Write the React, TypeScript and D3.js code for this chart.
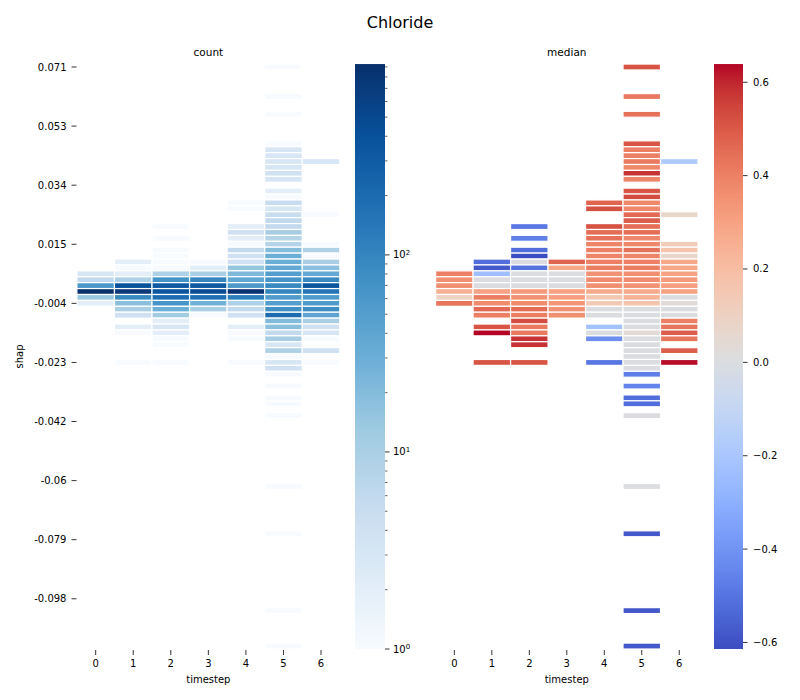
import React from "react";
import * as d3 from "d3";

const timesteps = [0, 1, 2, 3, 4, 5, 6];
const shapTickLabels = ["0.071", "0.053", "0.034", "0.015", "-0.004", "-0.023", "-0.042", "-0.06", "-0.079", "-0.098"];
const nBins = 99;
const tickEvery = 10;
const medianTicks = [-0.6, -0.4, -0.2, 0.0, 0.2, 0.4, 0.6];
const countMajorTicks = [1, 10, 100];

// bin row index (0 = top bin), count and median per timestep
const rowsT0 = [35, 36, 37, 38, 39, 40];
const countT0 = [3, 6, 60, 930, 14, 2];
const medianT0 = [0.40, 0.36, 0.36, 0.25, 0.10, 0.43];

const rowsT1 = [33, 34, 35, 36, 37, 38, 39, 40, 41, 42, 44, 45, 50];
const countT1 = [2, 1, 2, 9, 400, 750, 90, 18, 10, 4, 2, 1, 1];
const medianT1 = [-0.52, -0.58, -0.24, 0, 0, 0.30, 0.41, 0.37, 0.46, 0.40, 0.51, 0.639, 0.51];

const rowsT2 = [27, 29, 31, 32, 33, 34, 35, 36, 37, 38, 39, 40, 41, 42, 43, 44, 45, 46, 47, 50];
const countT2 = [1, 1, 1, 1, 1, 1, 9, 70, 320, 360, 190, 65, 30, 12, 2, 3, 2, 1, 1, 1];
const medianT2 = [-0.49, -0.46, -0.52, -0.614, 0, -0.5, 0, 0, 0, 0.33, 0.35, 0.37, 0.45, 0.41, 0.53, 0.42, 0.42, 0.58, 0.58, 0.51];

const rowsT3 = [33, 34, 35, 36, 37, 38, 39, 40, 41, 42];
const countT3 = [1, 2, 10, 100, 330, 450, 180, 28, 10, 1];
const medianT3 = [0.47, 0.28, 0, 0, 0, 0.30, 0.31, 0.34, 0.35, 0.36];

const rowsT4 = [23, 24, 27, 28, 29, 30, 31, 32, 33, 34, 35, 36, 37, 38, 39, 40, 41, 42, 44, 45, 46, 50];
const countT4 = [1, 1, 2, 4, 2, 1, 6, 4, 4, 15, 22, 38, 60, 850, 120, 9, 6, 4, 2, 1, 1, 1];
const medianT4 = [0.47, 0.52, 0.52, 0.45, 0.44, 0.39, 0.40, 0.39, 0.40, 0.41, 0.35, 0.37, 0.36, 0.27, 0.15, 0.14, 0, 0, -0.22, 0, -0.42, -0.49];

const rowsT5 = [0, 5, 8, 13, 14, 15, 16, 17, 18, 19, 21, 22, 23, 24, 25, 26, 27, 28, 29, 30, 31, 32, 33, 34, 35, 36, 37, 38, 39, 40, 41, 42, 43, 44, 45, 46, 47, 48, 49, 50, 51, 52, 54, 56, 57, 59, 71, 79, 92, 98];
const countT5 = [1, 1, 1, 1, 3, 3, 3, 3, 4, 3, 2, 1, 5, 3, 5, 6, 6, 11, 8, 8, 20, 30, 30, 36, 50, 65, 90, 100, 55, 50, 75, 200, 21, 18, 6, 11, 3, 9, 1, 3, 4, 1, 1, 1, 1, 1, 1, 1, 1, 1];
const medianT5 = [0.51, 0.42, 0.44, 0.51, 0.40, 0.40, 0.42, 0.38, 0.58, 0.39, 0.51, 0.53, 0.38, 0.38, 0.46, 0.49, 0.45, 0.45, 0.38, 0.38, 0.44, 0.39, 0.40, 0.41, 0.36, 0.37, 0.35, 0.27, 0.24, 0.17, 0, 0, 0, 0, 0.04, 0, 0, 0, 0, 0, 0, -0.47, -0.45, -0.52, -0.52, 0, 0, -0.58, -0.58, -0.58];

const rowsT6 = [16, 25, 30, 31, 32, 33, 34, 35, 36, 37, 38, 39, 40, 41, 42, 43, 44, 45, 46, 48, 50];
const countT6 = [3, 1, 1, 9, 1, 10, 18, 35, 88, 350, 150, 55, 55, 80, 40, 10, 4, 3, 1, 4, 1];
const medianT6 = [-0.18, 0.07, 0.13, 0.17, 0.07, 0.28, 0.28, 0.30, 0.33, 0.31, 0.30, 0, 0.03, 0, 0, 0.40, 0.43, 0.49, 0.43, 0.49, 0.63];

const allRows = [rowsT0, rowsT1, rowsT2, rowsT3, rowsT4, rowsT5, rowsT6];
const allCounts = [countT0, countT1, countT2, countT3, countT4, countT5, countT6];
const allMedians = [medianT0, medianT1, medianT2, medianT3, medianT4, medianT5, medianT6];

type Cell = { t: number; row: number; count: number; median: number };
const cells: Cell[] = [];
timesteps.forEach((t, i) => {
  allRows[i].forEach((r, j) => cells.push({ t, row: r, count: allCounts[i][j], median: allMedians[i][j] }));
});

const bluesColors = ["#f7fbff", "#deebf7", "#c6dbef", "#9ecae1", "#6baed6", "#4292c6", "#2171b5", "#08519c", "#08306b"];
const coolwarmColors = [
  "rgb(59,76,192)", "rgb(68,90,204)", "rgb(77,104,215)", "rgb(87,117,225)", "rgb(98,130,234)", "rgb(108,142,241)",
  "rgb(119,154,247)", "rgb(130,165,251)", "rgb(141,176,254)", "rgb(152,185,255)", "rgb(163,194,255)", "rgb(174,201,253)",
  "rgb(184,208,249)", "rgb(194,213,244)", "rgb(204,217,238)", "rgb(213,219,230)", "rgb(221,221,221)", "rgb(229,216,209)",
  "rgb(236,211,197)", "rgb(241,204,185)", "rgb(245,196,173)", "rgb(247,187,160)", "rgb(247,177,148)", "rgb(247,166,135)",
  "rgb(244,154,123)", "rgb(241,141,111)", "rgb(236,127,99)", "rgb(229,112,88)", "rgb(222,96,77)", "rgb(213,80,66)",
  "rgb(203,62,56)", "rgb(192,40,47)", "rgb(180,4,38)",
];
const blues = d3.piecewise(d3.interpolateRgb, bluesColors);
const coolwarm = d3.piecewise(d3.interpolateRgb, coolwarmColors);

const FONT = "DejaVu Sans, sans-serif";

export default function App() {
  const W = 800, H = 700;
  const top = 64.05, bottom = 649;
  const L = { x0: 76.9, x1: 339.8, cb0: 355, cb1: 385 };
  const R = { x0: 435.6, x1: 698, cb0: 714, cb1: 743 };

  const rowsDomain = d3.range(nBins);
  const y = d3.scaleBand<number>().domain(rowsDomain).range([top, bottom]).padding(0);
  const xL = d3.scaleBand<number>().domain(timesteps).range([L.x0, L.x1]).padding(0);
  const xR = d3.scaleBand<number>().domain(timesteps).range([R.x0, R.x1]).padding(0);

  const cExt = d3.extent(cells, (d) => d.count) as [number, number];
  const mExt = d3.extent(cells, (d) => d.median) as [number, number];
  const logC = d3.scaleLog().domain(cExt).range([0, 1]);
  const linM = d3.scaleLinear().domain(mExt).range([0, 1]);
  const cbCount = d3.scaleLog().domain(cExt).range([bottom, top]);
  const cbMed = d3.scaleLinear().domain(mExt).range([bottom, top]);

  const minor: number[] = [];
  [1, 10, 100].forEach((dec) => {
    for (let k = 2; k <= 9; k++) if (k * dec <= cExt[1]) minor.push(k * dec);
  });
  const stops = d3.range(0, 1.0001, 0.02);
  const yTickRows = shapTickLabels.map((_, i) => i * tickEvery);
  const bw = y.bandwidth();

  return (
    <svg width={W} height={H} style={{ display: "block", position: "absolute", left: 0, top: 0 }} fontFamily={FONT}>
      <defs>
        <linearGradient id="gBlues" x1="0" y1="1" x2="0" y2="0">
          {stops.map((s) => <stop key={s} offset={s} stopColor={blues(s)} />)}
        </linearGradient>
        <linearGradient id="gCw" x1="0" y1="1" x2="0" y2="0">
          {stops.map((s) => <stop key={s} offset={s} stopColor={coolwarm(s)} />)}
        </linearGradient>
      </defs>
      <rect width={W} height={H} fill="white" />
      <text x={400} y={28} textAnchor="middle" fontSize={16}>Chloride</text>

      {/* left: count */}
      <text x={(L.x0 + L.x1) / 2} y={56} textAnchor="middle" fontSize={10.5}>count</text>
      {cells.map((d, i) => (
        <rect key={"c" + i} x={xL(d.t)} y={y(d.row)} width={xL.bandwidth()} height={bw}
          fill={blues(logC(d.count))} stroke="white" strokeWidth={1.2} />
      ))}
      {yTickRows.map((r, i) => {
        const yy = (y(r) as number) + bw / 2;
        return (
          <g key={"yt" + i}>
            <line x1={71.5} x2={76.5} y1={yy} y2={yy} stroke="black" strokeWidth={0.8} />
            <text x={66.5} y={yy} dy="0.35em" textAnchor="end" fontSize={10}>{shapTickLabels[i]}</text>
          </g>
        );
      })}
      {timesteps.map((t) => {
        const xx = (xL(t) as number) + xL.bandwidth() / 2;
        return (
          <g key={"xl" + t}>
            <line x1={xx} x2={xx} y1={650} y2={655} stroke="black" strokeWidth={0.8} />
            <text x={xx} y={667} textAnchor="middle" fontSize={10}>{t}</text>
          </g>
        );
      })}
      <text x={(L.x0 + L.x1) / 2} y={683} textAnchor="middle" fontSize={10}>timestep</text>
      <text transform={`translate(23,${(top + bottom) / 2}) rotate(-90)`} textAnchor="middle" fontSize={10}>shap</text>

      <rect x={L.cb0} y={top} width={L.cb1 - L.cb0} height={bottom - top} fill="url(#gBlues)" />
      {minor.map((v) => (
        <line key={"mn" + v} x1={L.cb1} x2={L.cb1 + 2.5} y1={cbCount(v)} y2={cbCount(v)} stroke="black" strokeWidth={0.6} />
      ))}
      {countMajorTicks.map((v) => {
        const yy = cbCount(v);
        const exp = Math.round(Math.log10(v));
        return (
          <g key={"mj" + v}>
            <line x1={L.cb1} x2={L.cb1 + 4.5} y1={yy} y2={yy} stroke="black" strokeWidth={0.8} />
            <text x={L.cb1 + 8} y={yy} dy="0.35em" fontSize={10}>
              10<tspan dy="-0.45em" fontSize={7}>{exp}</tspan>
            </text>
          </g>
        );
      })}

      {/* right: median */}
      <text x={(R.x0 + R.x1) / 2} y={56} textAnchor="middle" fontSize={10.5}>median</text>
      {cells.map((d, i) => (
        <rect key={"m" + i} x={xR(d.t)} y={y(d.row)} width={xR.bandwidth()} height={bw}
          fill={coolwarm(linM(d.median))} stroke="white" strokeWidth={1.2} />
      ))}
      {timesteps.map((t) => {
        const xx = (xR(t) as number) + xR.bandwidth() / 2;
        return (
          <g key={"xr" + t}>
            <line x1={xx} x2={xx} y1={650} y2={655} stroke="black" strokeWidth={0.8} />
            <text x={xx} y={667} textAnchor="middle" fontSize={10}>{t}</text>
          </g>
        );
      })}
      <text x={(R.x0 + R.x1) / 2} y={683} textAnchor="middle" fontSize={10}>timestep</text>

      <rect x={R.cb0} y={top} width={R.cb1 - R.cb0} height={bottom - top} fill="url(#gCw)" />
      {medianTicks.map((v) => {
        const yy = cbMed(v);
        return (
          <g key={"mt" + v}>
            <line x1={R.cb1} x2={R.cb1 + 4.5} y1={yy} y2={yy} stroke="black" strokeWidth={0.8} />
            <text x={R.cb1 + 10} y={yy} dy="0.35em" fontSize={10}>{d3.format(".1f")(v).replace("-", "\u2212")}</text>
          </g>
        );
      })}
    </svg>
  );
}
